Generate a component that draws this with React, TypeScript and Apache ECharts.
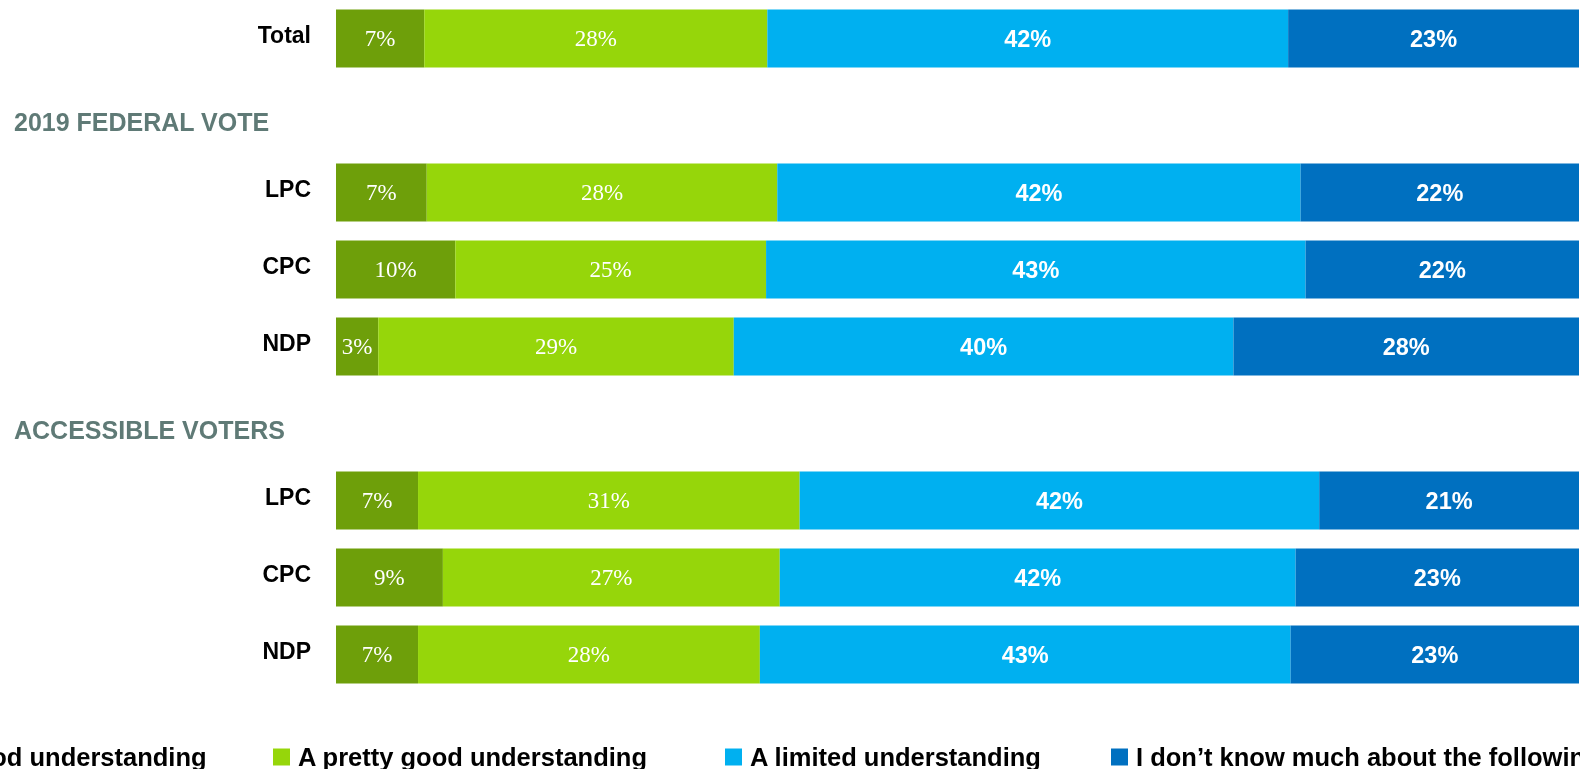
import React, { useEffect, useRef } from "react";
import * as echarts from "echarts";

const categories = ["Total", "2019 FEDERAL VOTE", "LPC", "CPC", "NDP", "ACCESSIBLE VOTERS", "LPC", "CPC", "NDP"];
const headerRows = ["2019 FEDERAL VOTE", "ACCESSIBLE VOTERS"];
const seriesNames = [
  "A very good understanding",
  "A pretty good understanding",
  "A limited understanding",
  "I don\u2019t know much about the following",
];
const veryGood = [7.1, "-", 7.3, 9.6, 3.4, "-", 6.6, 8.6, 6.6];
const prettyGood = [27.6, "-", 28.2, 25.0, 28.6, "-", 30.7, 27.1, 27.5];
const limited = [41.9, "-", 42.1, 43.4, 40.2, "-", 41.8, 41.5, 42.7];
const dontKnow = [23.4, "-", 22.4, 22.0, 27.8, "-", 20.9, 22.8, 23.2];
const colors = ["#6E9F0A", "#96D60A", "#00B0F0", "#0070C0"];
const legendLefts = [-149, 273, 725, 1111];

export default function App() {
  const ref = useRef<HTMLDivElement>(null);
  useEffect(() => {
    if (!ref.current) return;
    const chart = echarts.init(ref.current, undefined, { renderer: "svg", width: 1580, height: 769 });
    const values = [veryGood, prettyGood, limited, dontKnow];
    const serifLabel = {
      show: true,
      position: "inside",
      color: "#ffffff",
      fontFamily: "Liberation Serif",
      fontSize: 23,
      fontWeight: "normal",
      formatter: (p: any) => Math.round(p.value) + "%",
    };
    const sansLabel = {
      show: true,
      position: "inside",
      color: "#ffffff",
      fontFamily: "Liberation Sans",
      fontSize: 23.5,
      fontWeight: "bold",
      formatter: (p: any) => Math.round(p.value) + "%",
    };
    chart.setOption({
      animation: false,
      grid: { left: 336, right: 1, top: -2, height: 695, containLabel: false },
      xAxis: { type: "value", min: 0, max: 100, show: false },
      yAxis: {
        type: "category",
        data: categories,
        inverse: true,
        axisLine: { show: false },
        axisTick: { show: false },
        axisLabel: {
          margin: 25,
          fontFamily: "Liberation Sans",
          fontSize: 23,
          fontWeight: "bold",
          color: "#000000",
          formatter: (v: string) => (headerRows.includes(v) ? "{h|" + v + "}" : "{n|" + v + "}"),
          rich: {
            n: {
              fontFamily: "Liberation Sans",
              fontSize: 23,
              fontWeight: "bold",
              color: "#000000",
              padding: [0, 0, 8, 0],
            },
            h: {
              width: 297,
              align: "left",
              color: "#5F7A76",
              fontFamily: "Liberation Sans",
              fontSize: 25,
              fontWeight: "bold",
              padding: [12, 0, 0, 0],
            },
          },
        },
      },
      legend: seriesNames.map((name, i) => ({
        left: legendLefts[i],
        top: 744,
        padding: 0,
        itemWidth: 17,
        itemHeight: 17,
        icon: "rect",
        selectedMode: false,
        textStyle: {
          fontFamily: "Liberation Sans",
          fontSize: 25.5,
          fontWeight: "bold",
          color: "#000000",
          padding: [0, 0, 0, 3],
        },
        data: [name],
      })),
      series: seriesNames.map((name, i) => ({
        name,
        type: "bar",
        stack: "total",
        barWidth: 58,
        data: values[i],
        itemStyle: { color: colors[i] },
        label: i < 2 ? serifLabel : sansLabel,
      })),
    });
    return () => chart.dispose();
  }, []);
  return (
    <div
      ref={ref}
      style={{ position: "fixed", left: 0, top: 0, width: 1580, height: 769 }}
    />
  );
}
